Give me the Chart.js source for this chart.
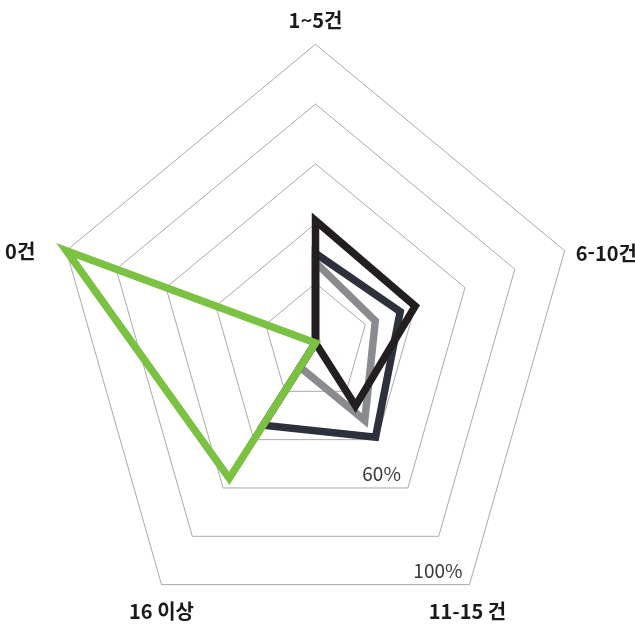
<!DOCTYPE html>
<html lang="ko">
<head>
<meta charset="utf-8">
<title>Radar</title>
<script src="https://cdn.jsdelivr.net/npm/chart.js@4.4.1/dist/chart.umd.min.js"></script>
<style>
  html, body { margin: 0; padding: 0; background: #fff; }
  #chart { display: block; }
</style>
</head>
<body>
<canvas id="chart" width="635" height="629"></canvas>
<script>
const categories = ["1~5건", "6-10건", "11-15 건", "16 이상", "0건"];
const greenValues = [0, 0, 0, 56, 100];
const blackValues = [41, 40, 26, 0, 0];
const navyValues = [30, 34, 39, 34, 0];
const grayValues = [27, 24, 32, 10, 0];
const tickLabels = [60, 100];
const axisMax = 100;
const axisStep = 20;

// the reference grid is a pentagon squashed wider than tall
const CENTER_X = 315.5;
const CENTER_Y = 343;
const RADIUS = 262;
const STRETCH_Y = 1.14;

class StretchedRadialScale extends Chart.RadialLinearScale {
  static id = "stretchedRadial";

  setCenterPoint() {
    this.xCenter = CENTER_X;
    this.yCenter = CENTER_Y;
    this.drawingArea = RADIUS;
  }

  getPointPosition(index, distance, additionalAngle = 0) {
    const p = super.getPointPosition(index, distance, additionalAngle);
    return {
      x: p.x,
      y: this.yCenter + (p.y - this.yCenter) * STRETCH_Y,
      angle: p.angle,
    };
  }
}
Chart.register(StretchedRadialScale);

const labelPlacement = [
  { align: "center", dx: 0, dy: -24 },
  { align: "left", dx: 11, dy: 3 },
  { align: "center", dx: -2, dy: 27 },
  { align: "center", dx: 0, dy: 27 },
  { align: "right", dx: -31, dy: 1 },
];

const textPlugin = {
  id: "radarText",
  afterDraw(chart) {
    const scale = chart.scales.r;
    const ctx = chart.ctx;
    const outer = scale.getDistanceFromCenterForValue(axisMax);
    ctx.save();
    ctx.font = "bold 20px 'Noto Sans CJK KR', 'Noto Sans', sans-serif";
    ctx.fillStyle = "#1a1a1a";
    ctx.textBaseline = "middle";
    categories.forEach((label, i) => {
      const p = scale.getPointPosition(i, outer);
      const place = labelPlacement[i];
      ctx.textAlign = place.align;
      ctx.fillText(label, p.x + place.dx, p.y + place.dy);
    });

    ctx.font = "19px 'Noto Sans CJK KR', 'Noto Sans', sans-serif";
    ctx.fillStyle = "#3a3a3a";
    ctx.textAlign = "right";
    ctx.textBaseline = "alphabetic";
    tickLabels.forEach((v) => {
      const p = scale.getPointPositionForValue(2, v);
      ctx.fillText(v + "%", p.x - 7, p.y - 7);
    });
    ctx.restore();
  },
};

function line(label, data, color) {
  return {
    label: label,
    data: data,
    borderColor: color,
    backgroundColor: color,
    borderWidth: 7.5,
    borderJoinStyle: "miter",
    fill: false,
    pointRadius: 0,
    pointHoverRadius: 0,
  };
}

new Chart(document.getElementById("chart"), {
  type: "radar",
  data: {
    labels: categories,
    datasets: [
      line("green", greenValues, "#7bc142"),
      line("black", blackValues, "#231f20"),
      line("navy", navyValues, "#2c313c"),
      line("gray", grayValues, "#898b8e"),
    ],
  },
  options: {
    responsive: false,
    animation: false,
    plugins: {
      legend: { display: false },
      tooltip: { enabled: false },
    },
    scales: {
      r: {
        type: "stretchedRadial",
        min: 0,
        max: axisMax,
        ticks: { stepSize: axisStep, display: false },
        grid: { color: "#a9a9a9", lineWidth: 1 },
        angleLines: { display: false },
        pointLabels: { display: false },
      },
    },
  },
  plugins: [textPlugin],
});
</script>
</body>
</html>
